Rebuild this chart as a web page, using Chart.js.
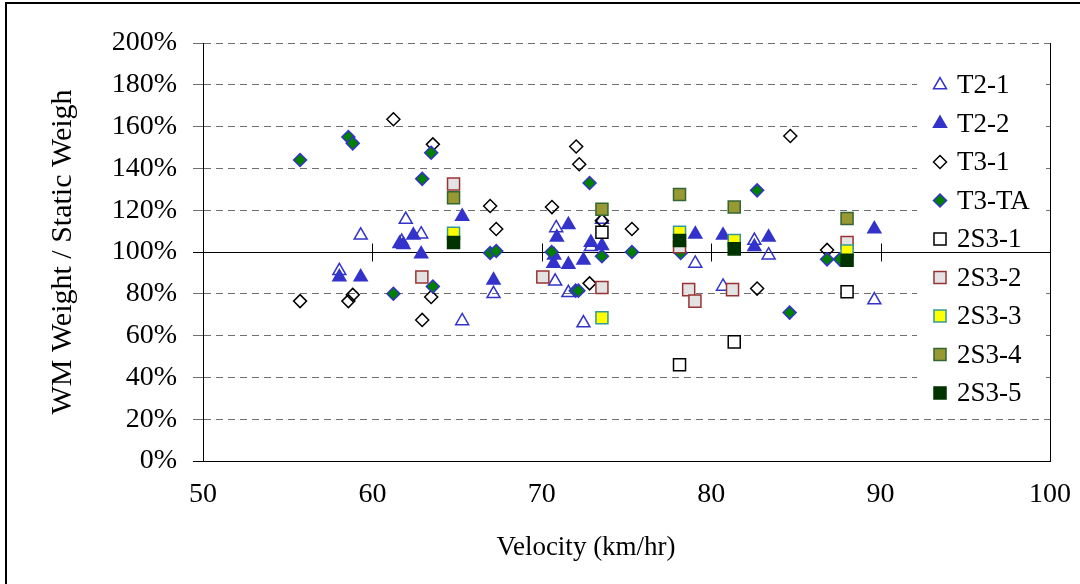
<!DOCTYPE html>
<html>
<head>
<meta charset="utf-8">
<title>WM Weight / Static Weight vs Velocity</title>
<script src="https://cdn.jsdelivr.net/npm/chart.js@4.4.1/dist/chart.umd.min.js"></script>
<style>
  html, body { margin: 0; padding: 0; background: #fff; }
  #wrap { width: 1080px; height: 584px; }
</style>
</head>
<body>
<div id="wrap"><canvas id="chart" width="1080" height="584"></canvas></div>
<script>
// velocity (km/hr) and WM / static weight ratio (%) for each truck
const t21Speed = [58.05, 59.31, 61.73, 61.97, 62.88, 65.3, 67.15, 70.79, 70.85, 71.57, 72.46, 72.9, 73.55, 79.06, 80.7, 82.55, 83.39, 89.63];
const t21Ratio = [91, 108, 105, 115.5, 108.5, 67, 80, 86, 111.5, 80.5, 66, 102.5, 115.5, 94.5, 83.5, 105.5, 98.5, 77];

const t22Speed = [58.05, 59.31, 61.6, 61.83, 62.42, 62.88, 65.3, 67.15, 70.69, 70.73, 70.89, 71.57, 71.57, 72.46, 72.9, 73.55, 79.06, 80.7, 82.55, 83.39, 89.63];
const t22Ratio = [88, 88, 104, 103.5, 108, 99, 117, 86.5, 94.5, 98.5, 107, 113, 94, 96, 104.5, 103, 108.5, 108, 102.5, 107, 111];

const t31Speed = [55.73, 58.58, 58.84, 61.24, 62.94, 63.47, 63.57, 66.95, 67.31, 70.6, 72.03, 72.21, 72.82, 73.55, 75.32, 82.71, 84.67, 86.84];
const t31Ratio = [76.5, 76.5, 79.5, 163.5, 67.5, 78.5, 151.5, 122, 111, 121.5, 150.5, 142, 85, 115, 111, 82.5, 155.5, 101];

const t3taSpeed = [55.73, 58.58, 58.84, 61.24, 62.94, 63.47, 63.57, 66.95, 67.31, 70.58, 72.0, 72.16, 72.82, 73.55, 75.32, 78.2, 82.71, 84.63, 86.84, 87.6];
const t3taRatio = [144, 155, 152, 80, 135, 147.5, 83.5, 99.5, 100.5, 100, 81.5, 81.5, 133, 98, 100, 99.5, 129.5, 71, 96.5, 96.5];

const s31Speed = [73.55, 78.13, 81.36, 88.02];
const s31Ratio = [109.5, 46, 57, 81];

const s32Speed = [62.92, 64.79, 70.06, 73.55, 78.13, 78.67, 79.04, 81.26, 88.02];
const s32Ratio = [88, 132.5, 88, 83, 102.5, 82, 76.5, 82, 104.5];

const s33Speed = [64.79, 73.55, 78.13, 81.36, 88.02];
const s33Ratio = [109, 68.5, 109.5, 105.5, 100.5];

const s34Speed = [64.79, 73.55, 78.13, 81.36, 88.02];
const s34Ratio = [126, 120.5, 127.5, 121.5, 116];

const s35Speed = [64.79, 78.13, 81.36, 88.02];
const s35Ratio = [104.5, 105.5, 101.5, 96];

const seriesNames = ['T2-1', 'T2-2', 'T3-1', 'T3-TA', '2S3-1', '2S3-2', '2S3-3', '2S3-4', '2S3-5'];
const seriesSpeed = [t21Speed, t22Speed, t31Speed, t3taSpeed, s31Speed, s32Speed, s33Speed, s34Speed, s35Speed];
const seriesRatio = [t21Ratio, t22Ratio, t31Ratio, t3taRatio, s31Ratio, s32Ratio, s33Ratio, s34Ratio, s35Ratio];

// marker look per series
const markers = [
  { shape: 'triangle', r: 7.5, fill: 'rgba(0,0,0,0)', line: '#3333cc' },
  { shape: 'triangle', r: 7.5, fill: '#3333cc',       line: '#3333cc' },
  { shape: 'rectRot',  r: 6.5, fill: 'rgba(0,0,0,0)', line: '#000000' },
  { shape: 'rectRot',  r: 6.5, fill: '#008000',       line: '#3333cc' },
  { shape: 'rect',     r: 8.5, fill: '#ffffff',       line: '#000000' },
  { shape: 'rect',     r: 8.5, fill: '#e3e3e3',       line: '#993333' },
  { shape: 'rect',     r: 8.5, fill: '#ffff00',       line: '#339999' },
  { shape: 'rect',     r: 8.5, fill: '#999933',       line: '#336633' },
  { shape: 'rect',     r: 8.5, fill: '#003300',       line: '#003300' }
];

const serif = 'Liberation Serif, Times New Roman, serif';

const datasets = seriesNames.map((name, i) => ({
  label: name,
  data: seriesSpeed[i].map((v, k) => ({ x: v, y: seriesRatio[i][k] })),
  pointStyle: markers[i].shape,
  pointRadius: markers[i].r,
  pointBackgroundColor: markers[i].fill,
  pointBorderColor: markers[i].line,
  pointBorderWidth: 1.5,
  showLine: false,
  order: seriesNames.length - i   // later series on top, like the original
}));

const isSolid = v => v === 100 || v === 0;

function markerAt(ctx, m, x, y) {
  ctx.fillStyle = m.fill;
  ctx.strokeStyle = m.line;
  ctx.lineWidth = 1.5;
  if (Chart.helpers && Chart.helpers.drawPoint) {
    Chart.helpers.drawPoint(ctx, { pointStyle: m.shape, radius: m.r, rotation: 0, borderWidth: 1.5 }, x, y);
  }
}

const overlay = {
  id: 'overlay',
  beforeDatasetsDraw(chart) {
    const { ctx, chartArea: a, scales: { x, y } } = chart;
    ctx.save();
    // legend backdrop hides the grid behind it
    ctx.fillStyle = '#ffffff';
    ctx.fillRect(a.right - 133, a.top + 19, 129, 348);

    // 100% line with the x ticks crossing it
    const y100 = Math.round(y.getPixelForValue(100)) + 0.5;
    ctx.strokeStyle = '#000';
    ctx.lineWidth = 1;
    ctx.beginPath();
    ctx.moveTo(a.left, y100);
    ctx.lineTo(a.right, y100);
    [60, 70, 80, 90].forEach(v => {
      const px = Math.round(x.getPixelForValue(v)) + 0.5;
      ctx.moveTo(px, y100 - 9);
      ctx.lineTo(px, y100 + 9);
    });
    // right edge of plot area
    const rx = Math.round(a.right) + 0.5;
    ctx.moveTo(rx, a.top);
    ctx.lineTo(rx, a.bottom);
    ctx.stroke();
    ctx.restore();
  },
  afterDraw(chart) {
    const { ctx, chartArea: a } = chart;
    ctx.save();
    // legend entries
    ctx.font = '27px ' + serif;
    ctx.textBaseline = 'middle';
    seriesNames.forEach((name, i) => {
      const ly = a.top + 42 + i * 38.5;
      markerAt(ctx, markers[i], a.right - 110, ly);
      ctx.fillStyle = '#000';
      ctx.fillText(name, a.right - 93, ly + 1);
    });

    // x axis title
    ctx.textAlign = 'center';
    ctx.fillText('Velocity (km/hr)', 586, 548);

    // outer frame
    ctx.strokeStyle = '#000';
    ctx.lineWidth = 2;
    ctx.beginPath();
    ctx.moveTo(6, 584);
    ctx.lineTo(6, 3);
    ctx.lineTo(1080, 3);
    ctx.stroke();
    ctx.restore();
  }
};

new Chart(document.getElementById('chart'), {
  type: 'scatter',
  data: { datasets },
  options: {
    responsive: false,
    animation: false,
    devicePixelRatio: 1,
    layout: { padding: { left: 0, top: 43, right: 30, bottom: 0 } },
    plugins: {
      legend: { display: false },
      tooltip: { enabled: false }
    },
    scales: {
      x: {
        type: 'linear',
        min: 50,
        max: 100,
        ticks: {
          stepSize: 10,
          padding: 17,
          color: '#000',
          font: { family: serif, size: 28 }
        },
        grid: { display: false, drawTicks: false },
        border: { display: true, color: '#000', width: 1 },
        afterFit(scale) {
          scale.height = 123;
          scale.paddingLeft = 0;
          scale.paddingRight = 0;
        }
      },
      y: {
        min: 0,
        max: 200,
        ticks: {
          stepSize: 20,
          padding: 16,
          color: '#000',
          font: { family: serif, size: 28 },
          callback: v => v + '%'
        },
        grid: {
          color: c => isSolid(c.tick && c.tick.value) ? '#000' : '#6f6f6f',
          tickColor: c => isSolid(c.tick && c.tick.value) ? '#000' : '#6f6f6f',
          tickLength: 10,
          lineWidth: 1
        },
        border: {
          display: true,
          color: '#000',
          width: 1,
          dash: c => (c.tick && isSolid(c.tick.value)) ? [] : [7, 5]
        },
        title: {
          display: true,
          text: 'WM Weight / Static Weigh',
          color: '#000',
          font: { family: serif, size: 30 },
          padding: { top: 45, bottom: 0 }
        },
        afterFit(scale) { scale.width = 203; }
      }
    }
  },
  plugins: [overlay]
});
</script>
</body>
</html>
